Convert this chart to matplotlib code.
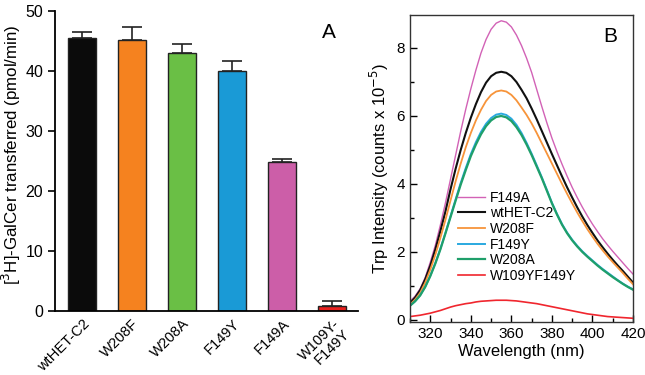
import numpy as np
import matplotlib
matplotlib.use('Agg')
import matplotlib.pyplot as plt
from matplotlib.ticker import MultipleLocator

plt.rcParams['font.family'] = ['Liberation Sans', 'DejaVu Sans']

# panel A: transfer activity
mutants = ['wtHET-C2', 'W208F', 'W208A', 'F149Y', 'F149A', 'W109Y-\nF149Y']
activity = [45.45, 45.2, 43.05, 40.0, 24.9, 0.9]
activity_err = [1.1, 2.1, 1.5, 1.65, 0.45, 0.75]
bar_colors = ['#0b0b0b', '#f5821f', '#6abf45', '#1a9ad6', '#cc5ea8', '#e8201e']

# panel B: Trp emission spectra (read every 2.5 nm)
wavelength = [310, 312.5, 315, 317.5, 320, 322.5, 325, 327.5, 330, 332.5,
              335, 337.5, 340, 342.5, 345, 347.5, 350, 352.5, 355, 357.5,
              360, 362.5, 365, 367.5, 370, 372.5, 375, 377.5, 380, 382.5,
              385, 387.5, 390, 392.5, 395, 397.5, 400, 402.5, 405, 407.5,
              410, 412.5, 415, 417.5, 420]
f149a = [0.55, 0.7, 0.92, 1.25, 1.7, 2.2, 2.8, 3.45, 4.15, 4.85,
         5.55, 6.2, 6.8, 7.35, 7.85, 8.25, 8.55, 8.73, 8.8, 8.76,
         8.62, 8.38, 8.07, 7.7, 7.28, 6.78, 6.28, 5.8, 5.35, 4.95,
         4.58, 4.23, 3.9, 3.6, 3.32, 3.06, 2.82, 2.6, 2.39, 2.2,
         2.02, 1.85, 1.68, 1.51, 1.35]
wthet = [0.5, 0.66, 0.88, 1.2, 1.6, 2.08, 2.62, 3.2, 3.85, 4.45,
         5.0, 5.5, 5.95, 6.35, 6.7, 6.98, 7.17, 7.27, 7.3, 7.27,
         7.17, 7.0, 6.77, 6.52, 6.22, 5.9, 5.56, 5.22, 4.88, 4.55,
         4.22, 3.9, 3.6, 3.31, 3.04, 2.79, 2.56, 2.34, 2.14, 1.95,
         1.77, 1.6, 1.44, 1.27, 1.1]
w208f = [0.45, 0.6, 0.8, 1.1, 1.48, 1.92, 2.42, 2.95, 3.52, 4.08,
         4.6, 5.08, 5.5, 5.87, 6.18, 6.44, 6.62, 6.72, 6.75, 6.72,
         6.62, 6.46, 6.25, 6.03, 5.78, 5.5, 5.2, 4.9, 4.6, 4.3,
         4.0, 3.71, 3.43, 3.16, 2.91, 2.67, 2.45, 2.24, 2.05, 1.87,
         1.7, 1.54, 1.38, 1.21, 1.05]
f149y = [0.42, 0.55, 0.73, 0.98, 1.3, 1.68, 2.1, 2.57, 3.06, 3.55,
         4.03, 4.47, 4.88, 5.23, 5.53, 5.77, 5.94, 6.04, 6.07, 6.03,
         5.92, 5.74, 5.5, 5.21, 4.89, 4.55, 4.2, 3.83, 3.45, 3.12,
         2.82, 2.57, 2.36, 2.18, 2.02, 1.88, 1.75, 1.62, 1.5, 1.39,
         1.28, 1.17, 1.07, 0.98, 0.9]
w208a = [0.42, 0.55, 0.72, 0.97, 1.29, 1.66, 2.08, 2.55, 3.03, 3.51,
         3.98, 4.41, 4.82, 5.16, 5.46, 5.7, 5.87, 5.97, 6.0, 5.96,
         5.85, 5.67, 5.44, 5.16, 4.85, 4.51, 4.17, 3.8, 3.43, 3.1,
         2.8, 2.55, 2.34, 2.16, 2.0, 1.86, 1.73, 1.6, 1.48, 1.37,
         1.26, 1.16, 1.06, 0.97, 0.89]
w109yf149y = [0.1, 0.12, 0.14, 0.17, 0.2, 0.24, 0.28, 0.33, 0.38, 0.42,
              0.45, 0.48, 0.5, 0.53, 0.55, 0.56, 0.57, 0.58, 0.58, 0.58,
              0.57, 0.56, 0.54, 0.52, 0.5, 0.48, 0.45, 0.42, 0.39, 0.36,
              0.33, 0.3, 0.27, 0.24, 0.21, 0.18, 0.16, 0.14, 0.12, 0.1,
              0.09, 0.08, 0.07, 0.06, 0.05]

spectra = [
    ('F149A', f149a, '#d262b6', 1.0),
    ('wtHET-C2', wthet, '#111111', 1.5),
    ('W208F', w208f, '#f7943a', 1.3),
    ('F149Y', f149y, '#2aa9e0', 1.4),
    ('W208A', w208a, '#1f9f6a', 1.6),
    ('W109YF149Y', w109yf149y, '#f0262e', 1.2),
]

fig = plt.figure(figsize=(6.45, 3.75), dpi=100)

# --- A ---
ax1 = fig.add_axes([0.0853, 0.1707, 0.470, 0.80])
x = np.arange(len(mutants))
ax1.bar(x, activity, width=0.56, color=bar_colors, edgecolor='#222222',
        linewidth=1.0, zorder=2)
ax1.errorbar(x, activity, yerr=[np.zeros(len(x)), activity_err], fmt='none',
             ecolor='#222222', elinewidth=1.2, capsize=7.5, capthick=1.2, zorder=1)
ax1.set_xlim(-0.54, 5.52)
ax1.set_ylim(0, 50)
ax1.set_yticks([0, 10, 20, 30, 40, 50])
ax1.set_xticks(x)
ax1.set_xticklabels(mutants, rotation=45, ha='right', rotation_mode='anchor',
                    fontsize=10.5, linespacing=1.0)
ax1.spines['top'].set_visible(False)
ax1.spines['right'].set_visible(False)
ax1.spines['left'].set_linewidth(1.3)
ax1.spines['bottom'].set_linewidth(1.3)
ax1.tick_params(axis='y', direction='out', length=5, width=1.2, labelsize=11.5)
ax1.tick_params(axis='x', length=0, pad=4)
ax1.set_ylabel('[$^3$H]-GalCer transferred (pmol/min)', fontsize=12.2)
ax1.yaxis.set_label_coords(-0.104, 0.52)
fig.text(0.499, 0.899, 'A', fontsize=15)

# --- B ---
ax2 = fig.add_axes([0.6357, 0.1413, 0.3457, 0.8187])
for name, vals, col, lw in spectra:
    ax2.plot(wavelength, vals, color=col, lw=lw, label=name)
ax2.set_xlim(310, 420)
ax2.set_ylim(-0.06, 8.97)
ax2.xaxis.set_major_locator(MultipleLocator(20))
ax2.xaxis.set_minor_locator(MultipleLocator(10))
ax2.yaxis.set_major_locator(MultipleLocator(2))
ax2.yaxis.set_minor_locator(MultipleLocator(1))
ax2.set_xticks([320, 340, 360, 380, 400, 420])
ax2.tick_params(which='major', direction='in', length=5, width=1.0, labelsize=11)
ax2.tick_params(which='minor', direction='in', length=3, width=1.0)
for sp in ax2.spines.values():
    sp.set_linewidth(1.0)
    sp.set_color('#333333')
ax2.set_xlabel('Wavelength (nm)', fontsize=12, labelpad=2)
ax2.set_ylabel('Trp Intensity (counts x 10$^{-5}$)', fontsize=12, labelpad=4)
fig.text(0.936, 0.888, 'B', fontsize=15)
ax2.legend(loc='upper left', bbox_to_anchor=(0.17, 0.46), frameon=False,
           fontsize=10, handlelength=2.0, handletextpad=0.3, labelspacing=0.12,
           borderpad=0.2)

fig.savefig('out.png', dpi=100)
